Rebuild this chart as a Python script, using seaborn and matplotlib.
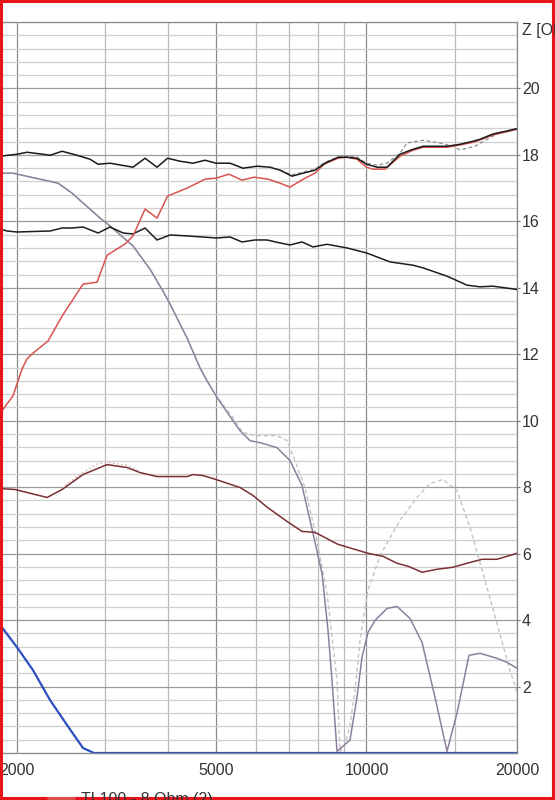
import numpy as np
import matplotlib
matplotlib.use("Agg")
import matplotlib.pyplot as plt
from matplotlib.lines import Line2D
from matplotlib.patches import Rectangle
import seaborn as sns

# ==============================
# Data
# ==============================
total_f = [1849, 2000, 2094, 2254, 2329, 2461, 2636, 2799, 2905, 3069, 3412, 3606, 3811, 4000,
           4237, 4498, 4753, 5000, 5335, 5662, 6040, 6413, 6715, 7096, 7464, 7889, 8261, 8770,
           9141, 9572, 10000, 10497, 10992, 11668, 12392, 12975, 14489, 15382, 16330, 16866,
           17904, 19096, 20000]
total_z = [17.96, 18.02, 18.08, 18.02, 17.99, 18.11, 17.99, 17.87, 17.72, 17.75, 17.63, 17.90,
           17.63, 17.90, 17.81, 17.75, 17.84, 17.75, 17.75, 17.60, 17.66, 17.63, 17.54, 17.36,
           17.45, 17.54, 17.75, 17.93, 17.93, 17.90, 17.72, 17.63, 17.63, 18.02, 18.17, 18.26,
           18.26, 18.32, 18.41, 18.47, 18.63, 18.72, 18.79]

red_f = [1849, 1866, 1963, 2047, 2094, 2143, 2307, 2461, 2710, 2891, 3027, 3289, 3412, 3606,
         3811, 4000, 4376, 4753, 5000, 5309, 5636, 5956, 6353, 6715, 7031, 7534, 7889, 8224,
         8770, 9141, 9572, 10000, 10304, 10890, 11668, 12392, 12975, 14489, 15382, 16330,
         16866, 17904, 19096, 20000]
red_z = [10.25, 10.30, 10.75, 11.56, 11.86, 12.01, 12.40, 13.15, 14.11, 14.17, 14.98, 15.32,
         15.56, 16.37, 16.10, 16.76, 17.00, 17.27, 17.30, 17.42, 17.24, 17.33, 17.27, 17.15,
         17.03, 17.30, 17.45, 17.72, 17.90, 17.93, 17.87, 17.63, 17.57, 17.57, 17.96, 18.14,
         18.23, 18.23, 18.30, 18.38, 18.45, 18.60, 18.70, 18.77]

ref_top_f = [6715, 7096, 7464, 7889, 8261, 8770, 9141, 9572, 10000, 10497, 10992, 11668, 12050,
             12975, 14028, 14893, 15382, 16482, 17423, 18238, 20000]
ref_top_z = [17.54, 17.40, 17.48, 17.57, 17.78, 17.93, 17.96, 17.93, 17.75, 17.69, 17.75, 18.05,
             18.36, 18.44, 18.36, 18.26, 18.15, 18.26, 18.47, 18.63, 18.79]

mid_f = [1849, 1910, 2000, 2329, 2461, 2576, 2710, 2905, 3069, 3259, 3412, 3606, 3811, 4046,
         4396, 5000, 5335, 5636, 5984, 6325, 6715, 7031, 7430, 7817, 8338, 9141, 10000, 11143,
         12392, 12975, 14489, 15887, 16866, 17904, 18923, 20000]
mid_z = [15.77, 15.71, 15.68, 15.71, 15.80, 15.80, 15.83, 15.65, 15.83, 15.65, 15.62, 15.80,
         15.44, 15.59, 15.56, 15.50, 15.53, 15.38, 15.44, 15.44, 15.35, 15.29, 15.38, 15.23,
         15.31, 15.20, 15.05, 14.78, 14.68, 14.60, 14.35, 14.08, 14.03, 14.05, 14.00, 13.95]

tw_f = [1849, 1963, 2416, 2576, 2931, 3069, 3412, 3690, 3918, 4046, 4237, 4376, 4645, 4797,
        5044, 5408, 5585, 5848, 6124, 6623, 7031, 7430, 7817, 8147, 8376, 8531, 8730, 8933,
        9268, 9572, 9795, 10070, 10400, 10992, 11508, 12219, 12915, 13708, 14489, 15172,
        16033, 16866, 18238, 19096, 20000]
tw_z = [17.45, 17.45, 17.15, 16.85, 16.10, 15.86, 15.26, 14.56, 13.90, 13.51, 12.91, 12.49,
        11.59, 11.20, 10.66, 10.00, 9.70, 9.40, 9.34, 9.19, 8.80, 8.05, 6.61, 5.41, 3.69, 2.19,
        0.05, 0.18, 0.39, 1.68, 2.88, 3.63, 3.99, 4.35, 4.41, 4.05, 3.33, 1.68, 0.05, 1.20,
        2.94, 3.00, 2.85, 2.73, 2.55]

tw_ref_f = [1849, 1963, 2416, 2576, 2931, 3069, 3412, 3690, 3918, 4046, 4237, 4376, 4645, 5000,
            5092, 5408, 5662, 5848, 5984, 6623, 6934, 7129, 7534, 7962, 8338, 8730, 8851, 9057,
            9268, 9484, 9706, 10070, 10646, 11668, 12619, 13397, 14223, 15172, 16107, 17105,
            18238, 19355, 20000]
tw_ref_z = [17.45, 17.45, 17.15, 16.85, 16.10, 15.86, 15.26, 14.56, 13.90, 13.51, 12.91, 12.49,
            11.59, 10.75, 10.60, 10.10, 9.64, 9.60, 9.55, 9.55, 9.40, 8.95, 7.99, 6.40, 4.80,
            2.19, 0.05, 0.24, 0.84, 1.89, 3.39, 4.90, 5.95, 7.00, 7.69, 8.11, 8.23, 7.90, 6.79,
            5.41, 3.90, 2.49, 1.83]

wf_f = [1849, 1982, 2297, 2461, 2710, 3027, 3320, 3524, 3811, 4376, 4498, 4710, 5000, 5585,
        5929, 6325, 6934, 7430, 7889, 8770, 10070, 10786, 11508, 12114, 12915, 13839, 14893,
        15887, 17023, 18238, 20000]
wf_z = [7.96, 7.93, 7.69, 7.93, 8.38, 8.68, 8.59, 8.44, 8.32, 8.32, 8.38, 8.35, 8.23, 7.99,
        7.75, 7.40, 6.97, 6.67, 6.64, 6.28, 6.01, 5.92, 5.71, 5.62, 5.44, 5.53, 5.59, 5.71,
        5.83, 5.83, 6.01]

wf_ref_f = [2461, 2710, 2900, 3027, 3320, 3524]
wf_ref_z = [7.98, 8.45, 8.70, 8.76, 8.65, 8.47]

blue_f = [1849, 1866, 2000, 2153, 2329, 2518, 2710, 2851, 20000]
blue_z = [3.85, 3.78, 3.18, 2.49, 1.59, 0.84, 0.15, 0.0, 0.0]

x_major = [2000, 5000, 10000, 20000]
x_minor = [3000, 4000, 6000, 7000, 8000, 9000, 15000]
y_major = [2, 4, 6, 8, 10, 12, 14, 16, 18, 20]

# ==============================
# Figure
# ==============================
sns.set_style("white")
plt.rcParams["font.family"] = ["Liberation Sans", "DejaVu Sans"]

W, H = 555, 800
fig = plt.figure(figsize=(W / 100, H / 100), dpi=100)
ax = fig.add_axes([0.0, 1 - 753 / H, 517 / W, (753 - 22) / H])
ax.set_xscale("log")
ax.set_xlim(1849, 20000)
ax.set_ylim(0, 22)

# grid
ax.set_yticks(y_major)
ax.set_yticks(np.arange(0, 22.01, 0.4), minor=True)
ax.set_xticks(x_major)
ax.set_xticks(x_minor, minor=True)
ax.set_xticklabels([str(v) for v in x_major])
ax.set_yticklabels([str(v) for v in y_major])
ax.grid(True, which="minor", axis="y", color="#cfcfcf", linewidth=0.9)
ax.grid(True, which="major", axis="y", color="#9a9a9a", linewidth=0.9)
ax.grid(True, which="minor", axis="x", color="#b8b8b8", linewidth=0.9)
ax.grid(True, which="major", axis="x", color="#8a8a8a", linewidth=0.9)
ax.set_axisbelow(True)

ax.yaxis.tick_right()
ax.tick_params(axis="y", which="major", direction="out", length=2.5, width=0.8,
               color="#777777", labelsize=11.5, labelcolor="#333333", pad=1)
ax.tick_params(axis="x", which="major", direction="out", length=2.5, width=0.8,
               color="#777777", labelsize=11.5, labelcolor="#333333", pad=5)
ax.tick_params(which="minor", length=0)

for side in ["top", "right", "bottom"]:
    ax.spines[side].set_color("#888888")
    ax.spines[side].set_linewidth(0.9)
ax.spines["left"].set_visible(False)

# curves
kw = dict(ax=ax, estimator=None, sort=False, legend=False)
sns.lineplot(x=tw_ref_f, y=tw_ref_z, color="#c4c4c4", linewidth=1.0, linestyle=(0, (3, 2)), **kw)
sns.lineplot(x=ref_top_f, y=ref_top_z, color="#8c8c8c", linewidth=0.9, linestyle=(0, (3, 2)), **kw)
sns.lineplot(x=wf_ref_f, y=wf_ref_z, color="#d8b8b8", linewidth=1.2, linestyle=(0, (1, 1.5)), **kw)
sns.lineplot(x=tw_f, y=tw_z, color="#8e7f9c", linewidth=1.1, **kw)
sns.lineplot(x=wf_f, y=wf_z, color="#7a2f34", linewidth=1.1, **kw)
sns.lineplot(x=mid_f, y=mid_z, color="#1e1e1e", linewidth=1.1, **kw)
sns.lineplot(x=red_f, y=red_z, color="#d9534f", linewidth=1.1, **kw)
sns.lineplot(x=total_f, y=total_z, color="#1a1a1a", linewidth=1.1, **kw)
line_kw = dict(kw)
blue = sns.lineplot(x=blue_f, y=blue_z, color="#2c4fc0", linewidth=1.6, **line_kw)
ax.lines[-1].set_clip_on(False)

# axis title, cut by the frame like in the screenshot
fig.text(522 / W, 1 - 30 / H, "Z [Ohm]", ha="left", va="center", fontsize=11.5, color="#333333")

# legend entry at the bottom
fig.add_artist(Line2D([48 / W, 74 / W], [1 - 798 / H, 1 - 798 / H], color="#d9534f", linewidth=2.0))
fig.text(81 / W, 1 - 792 / H, "TL100 - 8 Ohm (2)", ha="left", va="top", fontsize=11.5, color="#333333")

# red window frame
fig.add_artist(Rectangle((0, 0), 1, 1, transform=fig.transFigure, fill=False,
                         edgecolor="#e8141c", linewidth=4.4))

fig.savefig("out.png", dpi=100)
